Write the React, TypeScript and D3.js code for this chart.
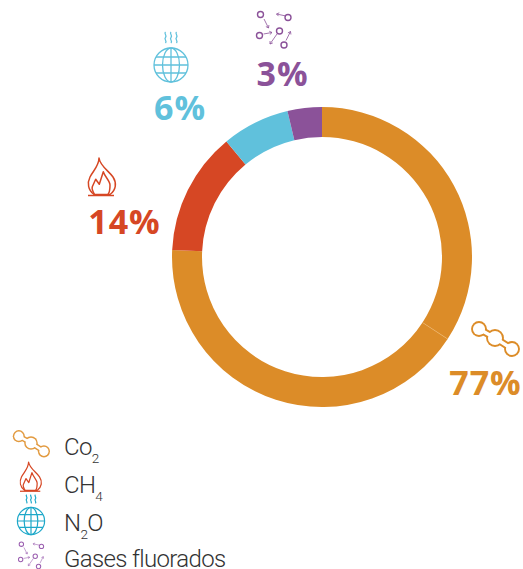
import React from "react";
import * as d3 from "d3";

const W = 523, H = 569;
const segmentNames = ["CO2 a", "CO2 b", "CH4", "N2O", "Gases"];
const segmentValues = [34.2, 41.55, 13.25, 7.3, 3.7];
const segmentColors = ["#dc8c28", "#dc8c28", "#d64724", "#60c1dc", "#8b5299"];
const percentLabels = ["77%", "14%", "6%", "3%"];
const labelColors = ["#dc8c28", "#d64724", "#60c1dc", "#8b5299"];
const labelX = [485.5, 124.5, 180, 282.5];
const labelY = [395, 234, 120, 86];

const FONT = "'Open Sans', 'Noto Sans', sans-serif";
const LEGEND_FONT = "Roboto, 'Open Sans', sans-serif";

function Molecule({ x, y, s, color }: any) {
  const pts: [number, number, number][] = [[-16, -9, 7], [0, 0, 8], [17, 11, 7]];
  const line = "M-16,-9 L0,0 L17,11";
  const sw = 1.9;
  const neck = 3.5;
  return (
    <g transform={`translate(${x},${y}) scale(${s})`}>
      <path d={line} fill="none" stroke={color} strokeWidth={neck + 2 * sw} />
      {pts.map((p, i) => <circle key={i} cx={p[0]} cy={p[1]} r={p[2] + sw / 2} fill={color} />)}
      <path d={line} fill="none" stroke="#fff" strokeWidth={neck} />
      {pts.map((p, i) => <circle key={i} cx={p[0]} cy={p[1]} r={p[2] - sw / 2} fill="#fff" />)}
    </g>
  );
}

function Flame({ x, y, s, color, sw = 1.5 }: any) {
  return (
    <g transform={`translate(${x},${y}) scale(${s})`} fill="none" stroke={color} strokeWidth={sw} strokeLinejoin="round">
      <path d="M11,0 C12,8 21,13 25,19 C29,25 28,32 22,36.5 L6,36.5 C0,32 -1,25 2,19 C5,13 11,8 11,0 Z" />
      <path d="M6.5,36.5 C4.5,33 3.5,31 4.3,28.7 L7.7,21.3 L11.3,26.3 L15.3,13.7 C17,19 22,23 22,27 C22,31 22,34 20,36.5" />
      <path d="M0,37.5 L26,37.5" />
    </g>
  );
}

function Globe({ x, y, s, color, sw = 1.3 }: any) {
  const r = 17;
  return (
    <g transform={`translate(${x},${y}) scale(${s})`} fill="none" stroke={color} strokeWidth={sw}>
      <circle r={r} />
      <ellipse rx={8.5} ry={r} />
      <path d={`M0,${-r} L0,${r} M${-r},0 L${r},0 M-15,-8 L15,-8 M-15,8 L15,8`} />
      {[-5.5, 0, 5.5].map((dx) => (
        <path key={dx} d={`M${dx},-33 c-2,2 2,3 0,5.5 c-2,2 2,3 0,5.5`} />
      ))}
    </g>
  );
}

const gasCircles = [[-12.5, -15.5], [15, -12.5], [-13.5, 5.5], [6.5, 1], [11, 15]];
const gasArrows = [[-9, -11, -4.5, -2], [13, -14, 3.5, -16], [-9.5, 4, -1, 2.5], [4, 4, -3, 14], [13, 10.5, 17.5, 1.5]];

function Gas({ x, y, s, color }: any) {
  return (
    <g transform={`translate(${x},${y}) scale(${s})`} fill="none" stroke={color}>
      {gasCircles.map((c, i) => <circle key={i} cx={c[0]} cy={c[1]} r={3} strokeWidth={1.4} />)}
      {gasArrows.map((a, i) => {
        const ang = Math.atan2(a[3] - a[1], a[2] - a[0]);
        const h = 3;
        const p1 = [a[2] - h * Math.cos(ang - 0.6), a[3] - h * Math.sin(ang - 0.6)];
        const p2 = [a[2] - h * Math.cos(ang + 0.6), a[3] - h * Math.sin(ang + 0.6)];
        return <path key={i} strokeWidth={0.8} d={`M${a[0]},${a[1]} L${a[2]},${a[3]} M${p1[0]},${p1[1]} L${a[2]},${a[3]} L${p2[0]},${p2[1]}`} />;
      })}
    </g>
  );
}

export default function App() {
  const pie = d3.pie<number>().sort(null).value((d) => d);
  const arc = d3.arc<d3.PieArcDatum<number>>().innerRadius(120).outerRadius(150);
  const arcs = pie(segmentValues);
  const seam = arcs[0].endAngle;
  const seamSin = Math.sin(seam), seamCos = -Math.cos(seam);
  const legendStyle = { fontFamily: LEGEND_FONT, fontWeight: 300, fontSize: 24, fill: "#333", letterSpacing: -0.65 } as const;
  const sub = { fontSize: 13.5 };
  return (
    <svg width={W} height={H} viewBox={`0 0 ${W} ${H}`} style={{ position: "absolute", left: 0, top: 0, display: "block", background: "#fff" }}>
      <g transform="translate(322,257)">
        {arcs.map((a, i) => (
          <path key={segmentNames[i]} d={arc(a) || ""} fill={segmentColors[i]} />
        ))}
        <line x1={120 * seamSin} y1={120 * seamCos} x2={150 * seamSin} y2={150 * seamCos} stroke="#eeb56c" strokeWidth={0.6} />
      </g>
      {percentLabels.map((t, i) => (
        <text key={t} x={labelX[i]} y={labelY[i]} textAnchor="middle" fill={labelColors[i]} fontFamily={FONT} fontWeight={700} fontSize={34} letterSpacing={1}>{t}</text>
      ))}
      <Molecule x={495} y={338} s={1} color="#dc8c28" />
      <Flame x={88} y={158} s={1} color="#d64724" />
      <Globe x={171} y={65} s={1} color="#60c1dc" />
      <Gas x={273} y={30} s={1} color="#8b5299" />

      <Molecule x={31} y={443} s={0.76} color="#e29a3f" />
      <Flame x={20} y={462} s={0.78} color="#d64724" sw={1.6} />
      <Globe x={31} y={521} s={0.8} color="#1ea8c9" sw={1.5} />
      <Gas x={30.5} y={555.5} s={0.73} color="#9b5fb0" />

      <text x={64} y={455} {...legendStyle}>Co<tspan dy={8} {...sub}>2</tspan></text>
      <text x={64} y={492.5} {...legendStyle}>CH<tspan dy={8} {...sub}>4</tspan></text>
      <text x={64} y={530.5} {...legendStyle}>N<tspan dy={8} {...sub}>2</tspan><tspan dy={-8}>O</tspan></text>
      <text x={64} y={566.5} {...legendStyle}>Gases fluorados</text>
    </svg>
  );
}
